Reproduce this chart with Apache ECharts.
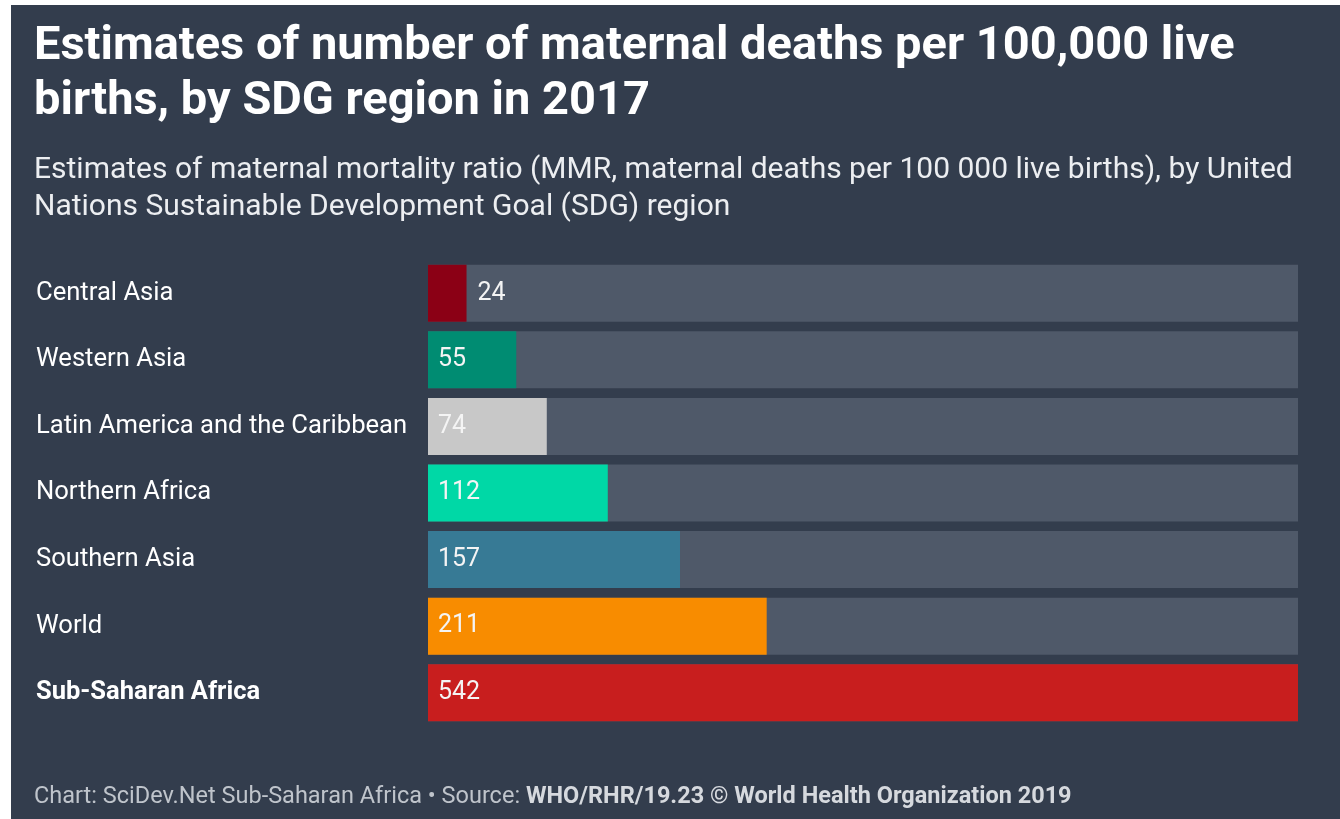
<!DOCTYPE html>
<html>
<head>
<meta charset="utf-8">
<script src="https://cdn.jsdelivr.net/npm/echarts@6/dist/echarts.min.js"></script>
<style>
  html, body { margin: 0; padding: 0; background: #ffffff; }
  #chart { position: absolute; left: 11px; top: 5px; width: 1329px; height: 814px; }
</style>
</head>
<body>
<div id="chart"></div>
<script>
const regions = ['Central Asia', 'Western Asia', 'Latin America and the Caribbean', 'Northern Africa', 'Southern Asia', 'World', 'Sub-Saharan Africa'];
const mmr = [24, 55, 74, 112, 157, 211, 542];
const barColors = ['#8b0015', '#008c72', '#c8c8c8', '#00d8a6', '#377a95', '#f88c00', '#c81e1e'];

const chart = echarts.init(document.getElementById('chart'));

const seriesData = mmr.map((v, i) => {
    const small = v < 40;
    return {
        value: v,
        itemStyle: { color: barColors[i] },
        label: small ? { position: 'right', distance: 11 } : { position: 'insideLeft', distance: 10 }
    };
});

chart.setOption({
    backgroundColor: '#333d4d',
    title: [
        {
            text: 'Estimates of number of maternal deaths per 100,000 live\nbirths, by SDG region in 2017',
            left: 18, top: 10,
            textStyle: { color: '#ffffff', fontFamily: 'Roboto', fontWeight: 'bold', fontSize: 47, lineHeight: 55 }
        },
        {
            text: 'Estimates of maternal mortality ratio (MMR, maternal deaths per 100 000 live births), by United\nNations Sustainable Development Goal (SDG) region',
            left: 18, top: 142,
            textStyle: { color: '#eceef1', fontFamily: 'Roboto', fontWeight: 'normal', fontSize: 30, lineHeight: 37 }
        },
        {
            text: '{n|Chart: SciDev.Net Sub-Saharan Africa • Source: }{b|WHO/RHR/19.23 © World Health Organization 2019}',
            left: 18, top: 775,
            textStyle: {
                rich: {
                    n: { color: '#bfc4cb', fontFamily: 'Roboto', fontWeight: 'normal', fontSize: 23.5 },
                    b: { color: '#d6d9de', fontFamily: 'Roboto', fontWeight: 'bold', fontSize: 23.5 }
                }
            }
        }
    ],
    grid: { left: 417, right: 42, top: 255, bottom: 93, containLabel: false },
    xAxis: {
        type: 'value', min: 0, max: 542,
        show: false
    },
    yAxis: {
        type: 'category',
        data: regions,
        inverse: true,
        axisLine: { show: false },
        axisTick: { show: false },
        axisLabel: {
            align: 'left',
            margin: 392,
            color: '#ffffff',
            fontFamily: 'Roboto',
            fontSize: 25.6,
            formatter: (v) => v === 'Sub-Saharan Africa' ? '{b|' + v + '}' : v,
            rich: { b: { color: '#ffffff', fontFamily: 'Roboto', fontSize: 25.5, fontWeight: 'bold' } }
        }
    },
    series: [{
        type: 'bar',
        data: seriesData,
        barWidth: 57,
        showBackground: true,
        backgroundStyle: { color: '#4f5969' },
        label: {
            show: true,
            color: '#f4f4f4',
            fontFamily: 'Roboto',
            fontSize: 25
        },
        animation: false
    }]
});

window.addEventListener('resize', chart.resize);
</script>
</body>
</html>
